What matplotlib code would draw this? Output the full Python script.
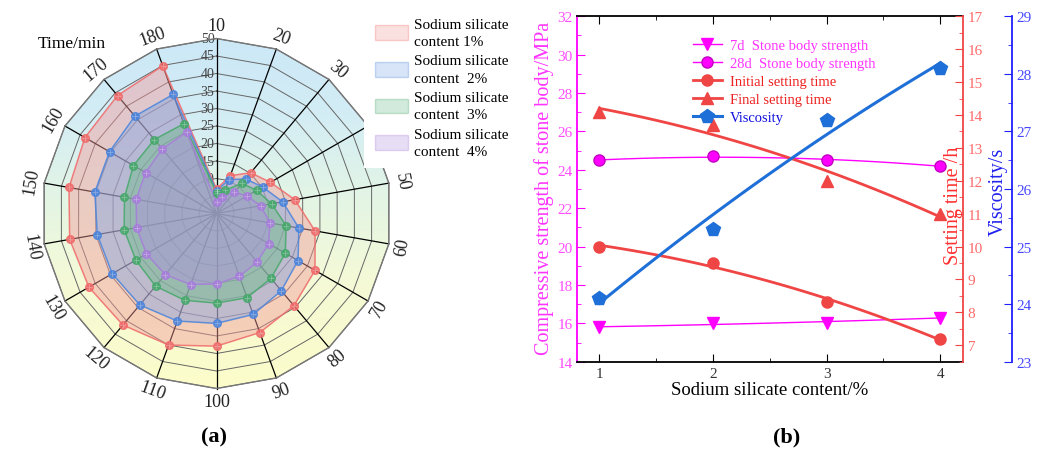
import numpy as np
import matplotlib
matplotlib.use('Agg')
import matplotlib.pyplot as plt
from matplotlib.patches import Polygon, Patch, Rectangle
from matplotlib.lines import Line2D

plt.rcParams['font.family'] = ['Liberation Serif', 'DejaVu Serif']

# ---------------- data: panel (a) radar ----------------
times = [10, 20, 30, 40, 50, 60, 70, 80, 90, 100, 110, 120, 130, 140, 150, 160, 170, 180]
content_1 = [7.0, 11.5, 15.2, 17.8, 22.7, 28.6, 32.5, 34.4, 36.2, 37.9, 40.0, 41.6, 42.1, 42.6, 42.8, 43.4, 44.0, 44.9]
content_2 = [6.5, 10.3, 12.9, 15.2, 19.2, 23.9, 26.9, 28.8, 30.7, 31.4, 32.7, 34.1, 34.4, 34.6, 35.3, 35.3, 36.3, 36.2]
content_3 = [6.0, 7.0, 11.3, 13.2, 16.0, 20.2, 22.7, 24.2, 25.6, 25.6, 26.4, 27.1, 26.6, 26.8, 26.7, 27.4, 27.6, 27.3]
content_4 = [3.2, 5.0, 8.0, 10.0, 12.8, 15.5, 17.2, 18.1, 19.1, 20.1, 21.6, 22.8, 23.1, 23.2, 23.3, 23.4, 24.1, 24.8]
radar_labels = ['Sodium silicate\ncontent 1%', 'Sodium silicate\ncontent  2%',
                'Sodium silicate\ncontent  3%', 'Sodium silicate\ncontent  4%']
radial_ticks = [10, 15, 20, 25, 30, 35, 40, 45, 50]

# ---------------- data: panel (b) ----------------
content = [1, 2, 3, 4]
strength_7d = [15.8, 16.0, 16.03, 16.3]
strength_28d = [24.5, 24.7, 24.5, 24.2]
initial_setting = [10.0, 9.5, 8.3, 7.2]
final_setting = [14.1, 13.7, 12.0, 11.0]
viscosity = [24.1, 25.3, 27.2, 28.1]

W, H = 1046, 452
fig = plt.figure(figsize=(W / 100, H / 100), dpi=100)

# ================= panel (a) =================
cx, cy, S = 216.5, 214.5, 3.5
axr = fig.add_axes([0, 0, 520 / W, 1])
axr.set_xlim(-cx / S, (520 - cx) / S)
axr.set_ylim(-(H - cy) / S, cy / S)
axr.axis('off')

n = len(times)
theta = np.deg2rad(np.arange(n) * 360.0 / n)
sx, sy = np.sin(theta), np.cos(theta)
R = 50

outer = Polygon(np.column_stack([R * sx, R * sy]), closed=True, facecolor='none',
                edgecolor='#777777', lw=1.0, zorder=3)
yy = np.linspace(1, -1, 256)
stops_y = [1.0, 0.55, 0.1, -0.4, -1.0]
stops_c = np.array([[0.80, 0.91, 0.97], [0.83, 0.93, 0.96], [0.89, 0.96, 0.90],
                    [0.96, 0.98, 0.84], [0.99, 0.99, 0.79]])
grad = np.stack([np.interp(-yy, -np.array(stops_y), stops_c[:, i]) for i in range(3)], axis=-1)
grad = grad[:, None, :]
im = axr.imshow(grad, extent=(-R, R, -R, R), aspect='auto', origin='upper', zorder=0)
axr.add_patch(outer)
im.set_clip_path(outer)

for r in np.arange(5, R + 1, 5):
    axr.plot(np.append(r * sx, r * sx[0]), np.append(r * sy, r * sy[0]),
             color='#666666', lw=0.7, zorder=1)
for i in range(n):
    axr.plot([0, R * sx[i]], [0, R * sy[i]], color='black', lw=0.9, zorder=1)

for v in radial_ticks:
    axr.text(-0.6, v, str(v), ha='right', va='center', fontsize=10, color='#444444', zorder=1.5)

series = [content_1, content_2, content_3, content_4]
fills = ['#f39a9a', '#7fa6e6', '#6cbc88', '#b090e0']
edges = ['#f06a6a', '#4a84dc', '#45a86a', '#a77ddb']
for vals, fc, ec in zip(series, fills, edges):
    v = np.array(vals)
    x, y = v * sx, v * sy
    axr.fill(x, y, facecolor=fc, alpha=0.45, edgecolor='none', zorder=2)
    axr.plot(np.append(x, x[0]), np.append(y, y[0]), color=ec, lw=1.1, alpha=0.85, zorder=4)
    axr.plot(x, y, 'o', ms=5.5, mfc=ec, mec=ec, alpha=0.85, zorder=5, lw=0)
    axr.plot(x, y, '+', ms=4, mec='white', mew=0.5, alpha=0.35, zorder=6, lw=0)

for i, t in enumerate(times):
    deg = i * 360.0 / n
    rot = -deg
    if 90 < deg < 270:
        rot += 180
    axr.text(53.8 * sx[i], 53.8 * sy[i], str(t), rotation=rot, rotation_mode='anchor',
             ha='center', va='center', fontsize=13, color='#222222')

axr.text((72 - cx) / S, (cy - 44) / S, 'Time/min', ha='center', va='center', fontsize=12.5)

# white backing of the legend box
fig.add_artist(Rectangle((364 / W, 1 - 169 / H), (520 - 364) / W, 169 / H,
                         transform=fig.transFigure, facecolor='white', edgecolor='none', zorder=4))

leg_handles = [Patch(facecolor=fc, edgecolor=ec, alpha=0.3, lw=1) for fc, ec in zip(fills, edges)]
leg_a = fig.legend(leg_handles, radar_labels, loc='upper left', bbox_to_anchor=(364 / W, 1 - 8 / H),
                   frameon=True, facecolor='white', edgecolor='none', framealpha=1, fontsize=11,
                   handlelength=2.2, handleheight=1.1, labelspacing=0.4, borderpad=0.2,
                   handletextpad=0.35, fancybox=False)
for t in leg_a.get_texts():
    t.set_linespacing(1.45)

fig.text(214 / W, 1 - 437 / H, '(a)', ha='center', va='center', fontsize=16, fontweight='bold')

# ================= panel (b) =================
L, Rt, B, T = 576.7, 963, 362.7, 17.3
ax = fig.add_axes([L / W, 1 - B / H, (Rt - L) / W, (B - T) / H])
ax2 = ax.twinx()
ax3 = ax.twinx()
ax3.spines['right'].set_position(('axes', 1 + (1011.7 - Rt) / (Rt - L)))

MAG, RED, BLUE = '#ff00ff', '#f04545', '#1f6fd8'
MAG_T, RED_T, BLUE_T = '#ff4dff', '#ff6a6a', '#4747ff'

ax.set_xlim(0.8, 4.2)
ax.set_ylim(14, 32)
ax2.set_ylim(6.5, 17)
ax3.set_ylim(23, 29)

xs = np.linspace(1, 4, 100)
def fit(y, deg=2):
    return np.polyval(np.polyfit(content, y, deg), xs)

ax.plot(xs, fit(strength_7d), color=MAG, lw=1.0)
ax.plot(content, strength_7d, 'v', color=MAG, ms=8, lw=0)
ax.plot(xs, fit(strength_28d), color=MAG, lw=1.0)
ax.plot(content, strength_28d, 'o', mfc=MAG, mec='#c000c0', ms=8, lw=0)
ax2.plot(xs, fit(initial_setting), color=RED, lw=2)
ax2.plot(content, initial_setting, 'o', color=RED, ms=8, lw=0)
ax2.plot(xs, fit(final_setting), color=RED, lw=2)
ax2.plot(content, final_setting, '^', color=RED, ms=9, lw=0)
ax3.plot(xs, fit(viscosity), color=BLUE, lw=2.2)
ax3.plot(content, viscosity, 'p', color=BLUE, ms=10, lw=0)

ax.set_xticks(content)
ax.set_xticks([1.5, 2.5, 3.5], minor=True)
ax.set_yticks(np.arange(14, 33, 2))
ax.set_yticks(np.arange(14, 33, 1), minor=True)
ax2.set_yticks(np.arange(7, 18, 1))
ax2.set_yticks(np.arange(6.5, 17.1, 0.5), minor=True)
ax3.set_yticks(np.arange(23, 30, 1))
ax3.set_yticks(np.arange(23, 29.1, 0.5), minor=True)

ax.tick_params(axis='x', which='both', direction='in', top=True, bottom=True, colors='black',
               labelcolor='#333333', labelsize=11)
ax.tick_params(axis='x', which='major', length=6)
ax.tick_params(axis='x', which='minor', length=3)
ax.tick_params(axis='y', which='both', direction='in', colors=MAG, labelcolor=MAG_T, labelsize=11, pad=3)
ax.tick_params(axis='y', which='major', length=6)
ax.tick_params(axis='y', which='minor', length=3)
ax2.tick_params(axis='y', which='both', direction='in', colors=RED, labelcolor=RED_T, labelsize=11)
ax2.tick_params(axis='y', which='major', length=6)
ax2.tick_params(axis='y', which='minor', length=3)
ax3.tick_params(axis='y', which='both', direction='in', colors='#2020ff', labelcolor=BLUE_T, labelsize=11)
ax3.tick_params(axis='y', which='major', length=6)
ax3.tick_params(axis='y', which='minor', length=3)

for a in (ax, ax2, ax3):
    for s in a.spines.values():
        s.set_linewidth(1.3)
ax.spines['left'].set_color(MAG)
ax.spines['right'].set_visible(False)
ax2.spines['right'].set_color(RED)
ax2.spines['left'].set_visible(False)
ax3.spines['right'].set_color('#2020ff')
ax3.spines['left'].set_visible(False)
for a in (ax2, ax3):
    a.spines['top'].set_visible(False)
    a.spines['bottom'].set_visible(False)

ax.set_xlabel('Sodium silicate content/%', fontsize=13.5, labelpad=1)
ax.set_ylabel('Compressive strength of stone body/MPa', color='#ff33ff', fontsize=14.5)
ax.yaxis.set_label_coords((554 - L) / (Rt - L), 0.505)
ax2.set_ylabel('Setting time /h', color='#ff3030', fontsize=14.5, rotation=90)
ax2.yaxis.set_label_coords((944 - L) / (Rt - L), 0.454)
ax3.set_ylabel('Viscosity/s', color='#2222ee', fontsize=14.5, rotation=90)
ax3.yaxis.set_label_coords((989 - L) / (Rt - L), 0.494)

handles_b = [
    Line2D([], [], color=MAG, lw=1, marker='v', ms=8),
    Line2D([], [], color=MAG, lw=1, marker='o', ms=8, mec='#c000c0'),
    Line2D([], [], color=RED, lw=2, marker='o', ms=8),
    Line2D([], [], color=RED, lw=2, marker='^', ms=9),
    Line2D([], [], color=BLUE, lw=2.2, marker='p', ms=10),
]
labels_b = ['7d  Stone body strength', '28d  Stone body strength',
            'Initial setting time', 'Final setting time', 'Viscosity']
fig.legend(handles_b, labels_b, loc='upper left', bbox_to_anchor=(680 / W, 1 - 27 / H),
           frameon=False, fontsize=10.5, handlelength=1.95, labelspacing=0.32,
           handletextpad=0.55,
           labelcolor=['#ff33ff', '#ff33ff', '#ee2020', '#ee2020', '#1010dd'])

fig.text(787 / W, 1 - 437 / H, '(b)', ha='center', va='center', fontsize=16, fontweight='bold')

fig.savefig('out.png', dpi=100)
